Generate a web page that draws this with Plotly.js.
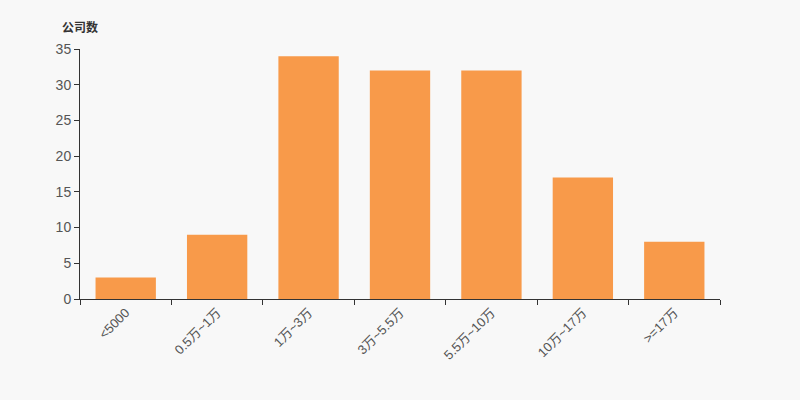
<!DOCTYPE html>
<html><head><meta charset="utf-8">
<script src="https://cdn.plot.ly/plotly-3.0.1.min.js"></script>
<style>html,body{margin:0;padding:0;background:#f8f8f8;}</style>
</head><body>
<div id="chart" style="width:800px;height:400px;"></div>
<script>
const categories = ["<5000", "0.5万~1万", "1万~3万", "3万~5.5万", "5.5万~10万", "10万~17万", ">=17万"];
const counts = [3, 9, 34, 32, 32, 17, 8];
const yTitle = "公司数";

const font = "'Liberation Sans', Arial, 'Noto Sans CJK SC', sans-serif";
Plotly.newPlot("chart", [{
  type: "bar",
  x: categories,
  y: counts,
  marker: {color: "#f89a4a"},
  hoverinfo: "x+y"
}], {
  width: 800, height: 400,
  paper_bgcolor: "#f8f8f8",
  plot_bgcolor: "#f8f8f8",
  margin: {l: 80, r: 80, t: 49, b: 101},
  bargap: 0.34,
  showlegend: false,
  font: {family: font, size: 12, color: "#333"},
  xaxis: {
    type: "category",
    tickson: "boundaries",
    ticks: "outside", ticklen: 5, tickcolor: "#333",
    showline: true, linecolor: "#333", linewidth: 1,
    showgrid: false, zeroline: false,
    tickangle: -45,
    tickfont: {family: font, size: 13, color: "#555"}
  },
  yaxis: {
    range: [0, 35], dtick: 5,
    ticks: "outside", ticklen: 5, tickcolor: "#333",
    showline: true, linecolor: "#333", linewidth: 1,
    showgrid: false, zeroline: false,
    tickfont: {family: font, size: 14, color: "#555"}
  },
  annotations: [{
    text: "<b>" + yTitle + "</b>",
    xref: "paper", yref: "paper", x: 0, y: 1,
    xanchor: "center", yanchor: "bottom", xshift: 0, yshift: 12,
    showarrow: false,
    font: {family: font, size: 12, color: "#333"}
  }]
}, {displayModeBar: false});
</script>
</body></html>
